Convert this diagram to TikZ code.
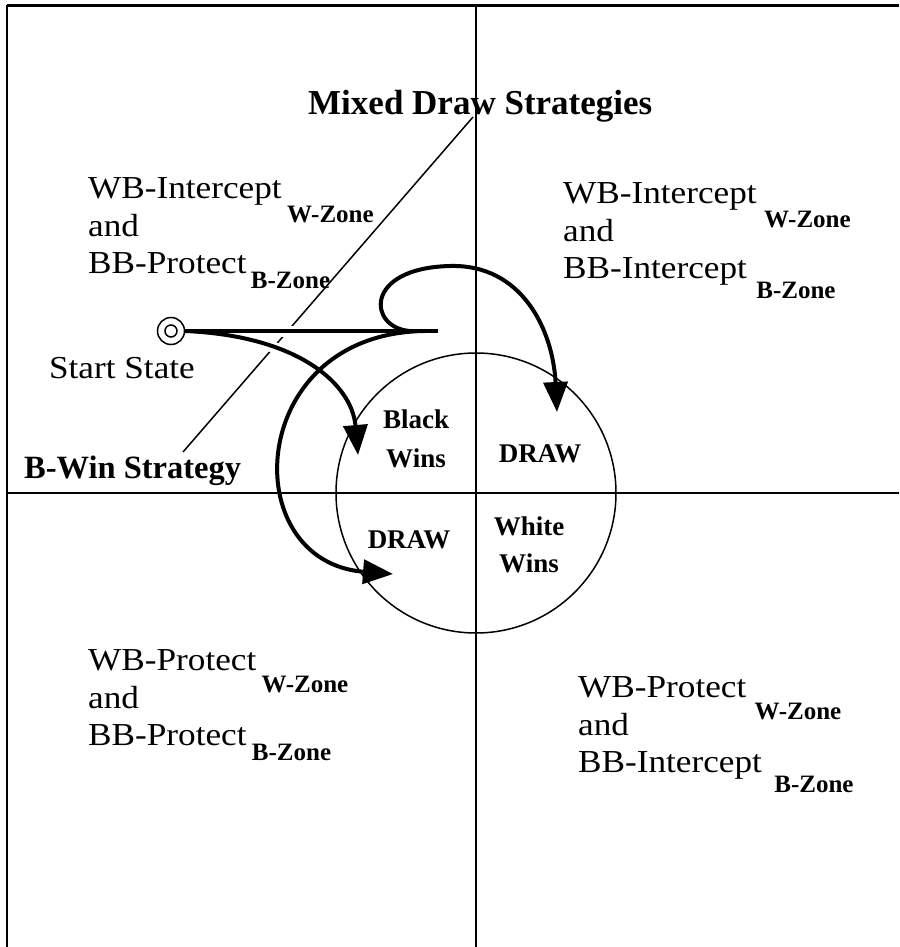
\documentclass[tikz,border=0pt]{standalone}
\usepackage{fontspec}
\setmainfont{Liberation Serif}
\newfontfamily\quadfont{Liberation Serif}[FakeStretch=1.1]
\usetikzlibrary{arrows.meta}

\tikzset{
  quad/.style={font=\quadfont\fontsize{32}{38}\selectfont, anchor=base west, inner sep=0pt},
  zone/.style={font=\bfseries\fontsize{25}{30}\selectfont, anchor=base west, inner sep=0pt},
  region/.style={font=\bfseries\fontsize{27}{32}\selectfont, anchor=base, inner sep=0pt},
  strat/.style={font=\bfseries\fontsize{35}{42}\selectfont, anchor=base west, inner sep=0pt},
  halo/.style={draw=white, line width=11pt},
  move/.style={line width=4pt, -{Triangle[length=30pt,width=24pt]}},
}

\begin{document}
\begin{tikzpicture}[x=1pt,y=-1pt]
    \useasboundingbox (0,0) rectangle (899,947);

    % Frame and quadrants
    \draw[line width=3pt] (7,6) -- (899,6);
    \draw[line width=2pt] (7,5) -- (7,947);
    \draw[line width=2pt] (476,6) -- (476,947);
    \draw[line width=2pt] (7,493) -- (899,493);

    % Strategy separator
    \draw[line width=1.5pt] (183,452) -- (473,117);
    \node[strat] (mixed) at (308,115) {Mixed Draw Strategies};
    \node[strat, font=\bfseries\fontsize{32.5}{39}\selectfont] (bwin) at (24,478) {B-Win Strategy};

    % Outcome circle
    \draw[line width=1.5pt] (476,493) circle (140);
    \node[region] (black) at (416,428) {Black};
    \node[region] (bwins) at (416,467) {Wins};
    \node[region] (drawr) at (540,462) {DRAW};
    \node[region] (drawl) at (409,548) {DRAW};
    \node[region] (white) at (529,535) {White};
    \node[region] (wwins) at (529,572) {Wins};

    % Quadrant labels
    \node[quad] (tl1) at (88,198) {WB-Intercept};
    \node[zone] (tlw) at ([xshift=5pt,yshift=-24pt]tl1.base east) {W-Zone};
    \node[quad] (tl2) at (88,236) {and};
    \node[quad] (tl3) at (88,273) {BB-Protect};
    \node[zone] (tlb) at ([xshift=4pt,yshift=-15pt]tl3.base east) {B-Zone};

    \node[quad] (tr1) at (563,203) {WB-Intercept};
    \node[zone] (trw) at ([xshift=7pt,yshift=-24pt]tr1.base east) {W-Zone};
    \node[quad] (tr2) at (563,241) {and};
    \node[quad] (tr3) at (563,278) {BB-Intercept};
    \node[zone] (trb) at ([xshift=9pt,yshift=-20pt]tr3.base east) {B-Zone};

    \node[quad] (bl1) at (88,670) {WB-Protect};
    \node[zone] (blw) at ([xshift=5pt,yshift=-22pt]bl1.base east) {W-Zone};
    \node[quad] (bl2) at (88,708) {and};
    \node[quad] (bl3) at (88,745) {BB-Protect};
    \node[zone] (blb) at ([xshift=5pt,yshift=-15pt]bl3.base east) {B-Zone};

    \node[quad] (br1) at (578,697) {WB-Protect};
    \node[zone] (brw) at ([xshift=8pt,yshift=-22pt]br1.base east) {W-Zone};
    \node[quad] (br2) at (578,735) {and};
    \node[quad] (br3) at (578,772) {BB-Intercept};
    \node[zone] (brb) at ([xshift=12pt,yshift=-20pt]br3.base east) {B-Zone};

    % Start state
    \node[circle, draw, line width=1.5pt, minimum size=27pt, inner sep=0pt] (start) at (171,331) {};
    \node[circle, draw, line width=1.5pt, minimum size=12pt, inner sep=0pt] (startin) at (start.center) {};
    \node[quad, anchor=base east] (startlbl) at (195,378) {Start State};

    \coordinate (lineend) at (438,331);
    \coordinate (fork) at (425,331);
    \coordinate (loopstart) at (410,331);
    \coordinate (looptop) at (450,266);
    \coordinate (tobw) at (358,455);
    \coordinate (todl) at (393,574);
    \coordinate (todr) at (557,412);

    % Moves
    \path[halo] (start.east) -- (lineend);
    \path[halo] (start.east) .. controls (300,336) and (352,385) .. (tobw);
    \draw[line width=4pt] (start.east) -- (lineend);
    \draw[move] (start.east) .. controls (300,336) and (352,385) .. (tobw);
    \draw[move] (fork) .. controls (245,333) and (235,562) .. (todl);
    \draw[move] (loopstart) .. controls (368,328) and (363,268) .. (looptop)
        .. controls (522,264) and (553,330) .. (todr);
\end{tikzpicture}
\end{document}
